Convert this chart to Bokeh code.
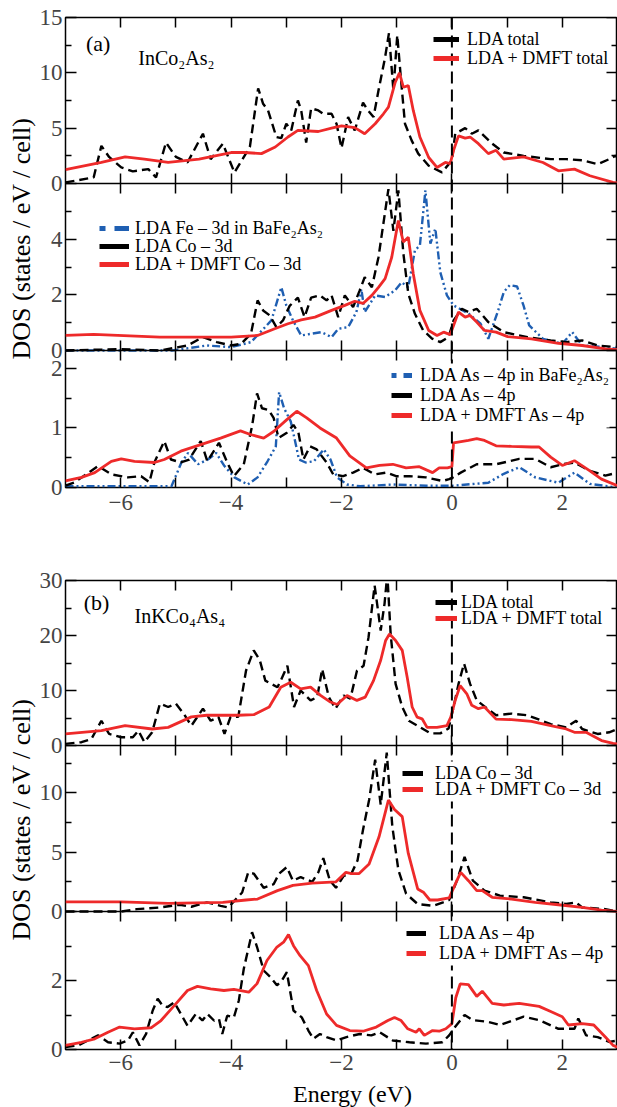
import math
from bokeh.plotting import figure
from bokeh.models import (Range1d, LinearAxis, FixedTicker, Span, Legend, LegendItem, Label,
                          BoxAnnotation)
from bokeh.layouts import column, row
from bokeh.embed import file_html
from bokeh.resources import INLINE

# ---------------- data (energy in eV, DOS in states/eV/cell) ----------------
a1_lda_total = [(-7.0,0.1),(-6.49,0.55),(-6.35,3.4),(-6.21,2.4),(-5.99,1.45),(-5.78,1.1),(-5.50,1.3),(-5.36,0.55),(-5.18,3.7),(-5.00,2.4),(-4.79,1.9),(-4.51,4.5),(-4.37,2.2),(-4.15,3.6),(-3.94,1.0),(-3.66,3.3),(-3.51,8.6),(-3.42,7.2),(-3.33,6.6),(-3.18,4.2),(-3.09,4.1),(-3.0,5.4),(-2.91,4.8),(-2.79,7.5),(-2.73,6.6),(-2.64,3.7),(-2.55,6.8),(-2.42,6.6),(-2.33,6.3),(-2.18,6.3),(-2.09,5.4),(-2.0,3.2),(-1.88,6.0),(-1.76,4.8),(-1.61,7.3),(-1.52,6.6),(-1.42,6.0),(-1.33,8.4),(-1.21,11.4),(-1.14,13.6),(-1.06,8.4),(-0.99,13.4),(-0.91,8.7),(-0.85,5.4),(-0.73,3.9),(-0.61,2.7),(-0.42,1.6),(-0.18,1.0),(0.0,2.1),(0.06,4.5),(0.24,5.0),(0.36,4.5),(0.48,4.8),(0.73,3.6),(0.94,2.8),(1.30,2.5),(1.79,2.2),(2.07,2.2),(2.36,2.1),(2.64,1.75),(2.85,2.2),(2.96,2.5),(3.0,2.4)]
a1_dmft_total = [(-7.0,1.25),(-6.35,1.9),(-5.92,2.4),(-5.57,2.2),(-5.14,1.9),(-4.58,2.2),(-4.0,2.8),(-3.76,2.8),(-3.45,2.7),(-3.2,3.3),(-2.97,4.2),(-2.79,4.8),(-2.42,4.7),(-2.18,5.0),(-2.0,5.2),(-1.76,5.05),(-1.58,4.5),(-1.39,5.4),(-1.24,6.3),(-1.15,6.9),(-1.03,9.1),(-0.95,10.0),(-0.88,8.7),(-0.79,8.85),(-0.70,6.6),(-0.58,4.2),(-0.42,2.35),(-0.27,1.45),(-0.12,1.9),(-0.03,1.8),(0.03,3.0),(0.12,4.3),(0.24,4.1),(0.33,4.2),(0.48,3.6),(0.66,2.7),(0.80,3.0),(0.94,2.2),(1.30,2.4),(1.65,1.9),(1.93,1.15),(2.22,1.3),(2.50,0.7),(2.92,0.1),(3.0,0.05)]

a2_fe3d_bafe2as2 = [(-7.0,0.0),(-5.07,0.0),(-4.44,0.18),(-4.0,0.12),(-3.64,0.3),(-3.27,1.08),(-3.09,2.27),(-3.0,1.62),(-2.88,1.08),(-2.73,0.54),(-2.55,0.6),(-2.36,0.66),(-2.18,0.48),(-2.06,0.78),(-1.88,0.84),(-1.73,1.38),(-1.64,2.2),(-1.58,1.38),(-1.39,1.98),(-1.21,1.92),(-1.03,2.16),(-0.91,2.45),(-0.79,2.27),(-0.67,3.6),(-0.58,3.77),(-0.48,5.75),(-0.39,3.84),(-0.30,4.38),(-0.21,2.81),(-0.09,1.98),(0.03,1.62),(0.30,1.33),(0.52,0.96),(0.66,0.42),(0.84,1.45),(0.94,2.1),(1.05,2.35),(1.18,2.3),(1.30,1.6),(1.40,0.9),(1.65,0.42),(2.0,0.24),(2.18,0.66),(2.36,0.18),(2.78,0.12),(3.0,0.06)]
a2_lda_co3d = [(-7.0,0.0),(-5.99,0.05),(-5.29,0.0),(-4.79,0.18),(-4.51,0.48),(-4.26,0.3),(-4.0,0.18),(-3.82,0.24),(-3.64,0.6),(-3.52,1.8),(-3.42,1.44),(-3.30,1.26),(-3.18,0.84),(-3.06,1.08),(-2.94,1.6),(-2.79,1.9),(-2.67,1.2),(-2.55,1.9),(-2.39,1.98),(-2.27,1.8),(-2.18,1.98),(-2.06,1.2),(-1.94,1.98),(-1.79,1.56),(-1.67,2.16),(-1.58,2.63),(-1.45,2.27),(-1.33,3.35),(-1.15,5.8),(-1.06,4.3),(-0.97,5.75),(-0.88,3.5),(-0.79,2.04),(-0.67,1.32),(-0.52,0.72),(-0.36,0.43),(-0.21,0.3),(-0.06,0.48),(0.03,1.08),(0.18,1.5),(0.30,1.38),(0.45,1.5),(0.66,1.02),(0.94,0.66),(1.37,0.48),(1.79,0.36),(2.07,0.3),(2.36,0.36),(2.64,0.18),(3.0,0.12)]
a2_dmft_co3d = [(-7.0,0.54),(-6.49,0.58),(-5.29,0.48),(-4.0,0.48),(-3.52,0.54),(-3.21,0.78),(-2.97,0.96),(-2.73,1.1),(-2.48,1.2),(-2.18,1.44),(-1.94,1.62),(-1.76,1.77),(-1.61,1.69),(-1.45,1.98),(-1.33,2.27),(-1.21,2.58),(-1.09,3.35),(-0.97,4.67),(-0.88,3.9),(-0.79,4.07),(-0.70,2.76),(-0.58,1.44),(-0.42,0.72),(-0.27,0.54),(-0.15,0.66),(-0.03,0.57),(0.12,1.38),(0.24,1.2),(0.33,1.26),(0.45,1.02),(0.59,0.72),(0.80,0.66),(1.01,0.5),(1.44,0.42),(1.93,0.26),(2.36,0.18),(2.78,0.06),(3.0,0.03)]

a3_as4p_bafe2as2 = [(-7.0,0.02),(-5.08,0.02),(-4.90,0.42),(-4.78,0.58),(-4.60,0.39),(-4.42,0.47),(-4.27,0.58),(-4.12,0.36),(-3.94,0.17),(-3.70,0.05),(-3.52,0.17),(-3.34,0.44),(-3.19,0.69),(-3.13,1.6),(-3.04,1.33),(-2.92,1.11),(-2.86,0.86),(-2.77,0.47),(-2.65,0.42),(-2.50,0.44),(-2.32,0.64),(-2.20,0.47),(-2.08,0.17),(-1.90,0.05),(-1.66,0.02),(-1.06,0.05),(-0.46,0.03),(0.02,0.03),(0.66,0.08),(0.94,0.23),(1.22,0.34),(1.51,0.17),(1.93,0.08),(2.22,0.25),(2.50,0.06),(3.0,0.0)]
a3_lda_as4p = [(-7.0,0.03),(-6.83,0.09),(-6.41,0.36),(-6.17,0.22),(-5.87,0.17),(-5.63,0.19),(-5.48,0.09),(-5.39,0.42),(-5.21,0.78),(-5.09,0.47),(-4.91,0.42),(-4.76,0.47),(-4.55,0.78),(-4.43,0.44),(-4.22,0.75),(-4.07,0.42),(-3.95,0.19),(-3.77,0.39),(-3.62,1.03),(-3.53,1.58),(-3.44,1.33),(-3.32,1.3),(-3.23,1.17),(-3.14,0.83),(-2.99,0.92),(-2.87,1.05),(-2.78,0.92),(-2.69,0.47),(-2.57,0.69),(-2.45,0.64),(-2.27,0.42),(-2.15,0.22),(-1.97,0.19),(-1.79,0.25),(-1.61,0.33),(-1.40,0.22),(-1.19,0.25),(-1.01,0.19),(-0.77,0.19),(-0.47,0.17),(-0.17,0.11),(-0.05,0.14),(0.02,0.17),(0.16,0.25),(0.45,0.39),(0.80,0.39),(1.22,0.48),(1.51,0.48),(1.79,0.34),(2.0,0.39),(2.22,0.42),(2.50,0.28),(2.78,0.2),(3.0,0.25)]
a3_dmft_as4p = [(-7.0,0.11),(-6.71,0.17),(-6.47,0.25),(-6.17,0.44),(-5.99,0.48),(-5.75,0.44),(-5.39,0.42),(-5.21,0.47),(-4.91,0.61),(-4.55,0.72),(-4.19,0.83),(-3.83,0.95),(-3.65,0.89),(-3.41,0.83),(-3.23,0.94),(-2.99,1.14),(-2.81,1.28),(-2.63,1.17),(-2.39,1.0),(-2.09,0.83),(-1.85,0.53),(-1.55,0.33),(-1.31,0.37),(-1.07,0.39),(-0.83,0.33),(-0.59,0.35),(-0.35,0.25),(-0.23,0.33),(-0.08,0.33),(0.0,0.35),(0.03,0.75),(0.30,0.79),(0.45,0.82),(0.59,0.79),(0.80,0.70),(1.08,0.69),(1.44,0.68),(1.58,0.68),(1.79,0.51),(2.0,0.37),(2.22,0.45),(2.50,0.28),(2.71,0.14),(3.0,0.03)]

b1_lda_total = [(-7.0,0.3),(-6.71,0.6),(-6.53,1.2),(-6.35,4.5),(-6.21,2.1),(-5.99,1.5),(-5.78,1.5),(-5.68,2.7),(-5.57,0.6),(-5.43,2.4),(-5.29,7.6),(-5.14,7.0),(-5.00,7.6),(-4.86,5.8),(-4.72,3.6),(-4.51,6.7),(-4.37,4.5),(-4.23,5.2),(-4.12,2.1),(-4.01,5.2),(-3.87,5.2),(-3.73,13.6),(-3.59,17.3),(-3.48,15.5),(-3.38,11.8),(-3.16,10.6),(-3.10,11.8),(-2.98,14.5),(-2.86,7.0),(-2.74,10.0),(-2.56,8.2),(-2.44,8.8),(-2.35,13.9),(-2.23,8.8),(-2.11,6.7),(-1.96,9.1),(-1.84,8.5),(-1.72,13.6),(-1.60,14.5),(-1.51,19.7),(-1.40,29.1),(-1.29,20.9),(-1.22,25.8),(-1.17,31.2),(-1.11,20.3),(-1.02,11.2),(-0.90,7.0),(-0.78,4.5),(-0.57,3.3),(-0.39,2.2),(-0.21,2.2),(-0.06,3.1),(0.03,7.0),(0.12,11.2),(0.22,14.9),(0.33,11.2),(0.45,8.2),(0.80,5.5),(1.08,5.8),(1.37,5.5),(1.79,3.9),(2.07,3.3),(2.25,4.5),(2.36,3.0),(2.64,2.1),(2.85,2.4),(3.0,3.0)]
b1_dmft_total = [(-7.0,2.1),(-6.35,2.7),(-5.92,3.6),(-5.43,3.0),(-5.14,3.3),(-4.72,5.2),(-4.44,5.5),(-3.87,5.5),(-3.59,5.6),(-3.31,7.0),(-3.10,10.6),(-2.92,11.5),(-2.74,10.3),(-2.56,10.6),(-2.38,9.1),(-2.20,7.9),(-2.08,7.45),(-1.90,9.1),(-1.72,8.2),(-1.57,8.8),(-1.42,11.8),(-1.29,15.5),(-1.20,19.1),(-1.13,20.3),(-1.02,19.1),(-0.90,17.3),(-0.81,12.4),(-0.72,7.0),(-0.63,5.15),(-0.54,4.85),(-0.45,3.3),(-0.27,3.3),(-0.09,3.6),(-0.02,5.15),(0.06,8.2),(0.15,10.9),(0.27,9.4),(0.36,7.3),(0.48,6.7),(0.59,7.0),(0.80,4.8),(1.08,4.7),(1.44,4.4),(1.79,3.6),(2.07,3.0),(2.22,2.4),(2.43,2.4),(2.71,0.9),(2.92,0.4),(3.0,0.3)]

b2_lda_co3d = [(-7.0,0.0),(-5.99,0.0),(-5.71,0.2),(-5.29,0.34),(-4.93,0.57),(-4.72,0.4),(-4.44,0.77),(-4.19,0.48),(-4.05,0.34),(-3.94,0.9),(-3.80,1.6),(-3.69,3.3),(-3.59,3.2),(-3.41,2.0),(-3.23,2.3),(-3.13,3.2),(-2.99,3.75),(-2.88,2.6),(-2.74,2.9),(-2.53,2.5),(-2.42,3.3),(-2.33,4.5),(-2.21,2.6),(-2.10,2.0),(-1.96,3.0),(-1.82,3.2),(-1.71,4.3),(-1.61,6.9),(-1.50,9.4),(-1.39,12.8),(-1.29,9.0),(-1.18,13.4),(-1.08,7.2),(-0.97,3.5),(-0.83,1.5),(-0.62,0.63),(-0.33,0.48),(-0.16,0.77),(-0.05,0.97),(0.09,2.6),(0.23,4.6),(0.38,2.6),(0.59,1.76),(0.87,1.34),(1.30,1.2),(1.79,0.77),(2.07,0.63),(2.25,0.77),(2.36,0.34),(2.78,0.2),(3.0,0.0)]
b2_dmft_co3d = [(-7.0,0.82),(-5.99,0.82),(-5.14,0.68),(-4.15,0.77),(-3.73,0.97),(-3.52,1.05),(-3.16,1.76),(-2.88,2.2),(-2.53,2.4),(-2.10,2.5),(-1.92,3.3),(-1.82,3.2),(-1.68,3.2),(-1.50,4.0),(-1.32,6.3),(-1.15,9.4),(-1.04,8.6),(-0.90,8.0),(-0.79,4.9),(-0.62,1.9),(-0.51,1.6),(-0.40,0.97),(-0.26,0.97),(-0.05,1.14),(0.09,2.6),(0.16,3.3),(0.30,2.6),(0.45,1.76),(0.55,1.76),(0.73,1.2),(1.08,1.05),(1.51,0.77),(1.93,0.57),(2.36,0.34),(2.71,0.11),(3.0,0.0)]

b3_lda_as4p = [(-7.0,0.07),(-6.77,0.12),(-6.41,0.41),(-6.23,0.21),(-6.02,0.17),(-5.87,0.26),(-5.78,0.5),(-5.66,0.12),(-5.54,0.45),(-5.42,1.13),(-5.33,1.47),(-5.24,1.27),(-5.15,1.23),(-5.03,1.37),(-4.91,1.03),(-4.79,0.69),(-4.64,1.03),(-4.52,0.84),(-4.43,1.03),(-4.31,0.84),(-4.22,0.89),(-4.16,0.45),(-4.07,0.98),(-3.95,0.93),(-3.86,1.42),(-3.77,2.34),(-3.62,3.4),(-3.53,2.97),(-3.41,2.29),(-3.29,2.1),(-3.17,1.86),(-3.08,2.0),(-2.99,2.24),(-2.87,1.13),(-2.72,0.93),(-2.60,0.55),(-2.51,0.31),(-2.39,0.45),(-2.27,0.36),(-2.09,0.26),(-1.91,0.36),(-1.67,0.45),(-1.46,0.41),(-1.31,0.5),(-1.07,0.26),(-0.77,0.21),(-0.47,0.17),(-0.17,0.21),(-0.05,0.41),(0.06,0.66),(0.23,1.0),(0.38,0.85),(0.66,0.8),(0.87,0.71),(1.30,0.95),(1.58,0.85),(1.93,0.6),(2.22,0.6),(2.29,0.9),(2.43,0.41),(2.64,0.36),(2.85,0.22),(3.0,0.26)]
b3_dmft_as4p = [(-7.0,0.12),(-6.71,0.21),(-6.47,0.31),(-6.23,0.5),(-6.02,0.65),(-5.75,0.6),(-5.45,0.63),(-5.27,0.84),(-5.03,1.27),(-4.79,1.71),(-4.61,1.83),(-4.37,1.76),(-4.13,1.71),(-3.95,1.74),(-3.68,1.66),(-3.53,1.91),(-3.35,2.58),(-3.17,2.97),(-3.05,3.11),(-2.96,3.33),(-2.87,3.01),(-2.75,2.72),(-2.60,2.43),(-2.45,1.71),(-2.27,1.03),(-2.09,0.7),(-1.85,0.55),(-1.61,0.53),(-1.37,0.65),(-1.16,0.84),(-1.04,0.93),(-0.92,0.84),(-0.80,0.6),(-0.65,0.5),(-0.59,0.6),(-0.50,0.41),(-0.35,0.55),(-0.23,0.53),(-0.11,0.6),(0.0,0.75),(0.07,1.5),(0.15,1.9),(0.30,1.88),(0.45,1.54),(0.55,1.69),(0.73,1.34),(0.94,1.29),(1.22,1.34),(1.58,1.25),(1.79,1.1),(2.0,0.95),(2.11,0.71),(2.36,0.75),(2.57,0.71),(2.78,0.36),(2.92,0.12),(3.0,0.07)]

x_ticks = [-6, -4, -2, 0, 2]
x_minor_ticks = [-5, -3, -1, 1]
x_tick_labels = ["\u22126", "\u22124", "\u22122", "0", "2"]

a_yticks = [[0, 5, 10, 15], [0, 2, 4], [0, 1, 2]]
a_yminor = [[2.5, 7.5, 12.5], [1, 3, 5], [0.5, 1.5]]
a_ymax = [15, 6, 2.3]
b_yticks = [[0, 10, 20, 30], [0, 5, 10], [0, 2]]
b_yminor = [[5, 15, 25], [2.5, 7.5, 12.5], [1, 3]]
b_ymax = [30, 14, 4]

y_title = "DOS (states / eV / cell)"
x_title = "Energy (eV)"

# ---------------- layout / styles ----------------
FONT = "Liberation Serif"
RED = "#ee2a2a"
BLUE = "#1f5fb2"
DASH_LDA = "9 5"
DASH_FE = "8 3 2 3 2 3"
W_LDA = 2.4
W_DMFT = 2.8
W_FE = 2.4
TOTAL_W = 617
STRIP = 36                     # strip that carries the rotated y title
FRAME_LEFT = 27                # inside the group figure
GW = TOTAL_W - STRIP
FRAME_LEFT_WIN = STRIP + FRAME_LEFT
FRAME_RIGHT_WIN = TOTAL_W


def e_at(xwin):
    return -7 + (xwin - FRAME_LEFT_WIN) * 10.0 / (FRAME_RIGHT_WIN - FRAME_LEFT_WIN)


def unzip(series):
    return [e for e, _ in series], [v for _, v in series]


def tick_style(ax, tin, tout, mtin, mtout):
    ax.axis_line_color = None
    ax.major_tick_in = tin
    ax.major_tick_out = tout
    ax.minor_tick_in = mtin
    ax.minor_tick_out = mtout
    ax.major_tick_line_color = "black"
    ax.minor_tick_line_color = "black"
    ax.major_tick_line_width = 1.5
    ax.minor_tick_line_width = 1.5


def no_labels(ax):
    ax.major_label_text_font_size = "0px"
    ax.major_label_standoff = 0


def make_group(fig_top, top_border, band_heights, ymax, yticks, yminor, names, bottom_border, xstandoff):
    Hf = sum(band_heights)
    frame_top = fig_top + top_border
    frame_bottom = frame_top + Hf
    p = figure(width=GW, height=top_border + Hf + bottom_border,
               x_range=Range1d(-7, 3), y_range=Range1d(frame_bottom, frame_top),
               output_backend="svg", toolbar_location=None,
               x_axis_location=None, y_axis_location=None,
               min_border_left=FRAME_LEFT, min_border_right=0,
               min_border_top=top_border, min_border_bottom=bottom_border)
    p.grid.visible = False
    p.outline_line_color = "black"
    p.outline_line_width = 1.5
    p.background_fill_color = "white"
    p.border_fill_color = "white"

    # one y scale per stacked panel
    ranges = {}
    below = 0
    for i in reversed(range(len(band_heights))):
        ppu = band_heights[i] / ymax[i]
        start = -below / ppu
        ranges[names[i]] = Range1d(start, start + Hf / ppu)
        below += band_heights[i]
    p.extra_y_ranges = ranges

    info = {}
    acc = frame_top
    major, minor, overrides = [], [], {}
    for i, n in enumerate(names):
        acc += band_heights[i]
        ppu = band_heights[i] / ymax[i]
        info[n] = (acc, ppu)
        for v in yticks[i]:
            pos = round(acc - v * ppu, 3)
            major.append(pos)
            overrides[pos] = str(v)
        for v in yminor[i]:
            minor.append(round(acc - v * ppu, 3))

    yt = FixedTicker(ticks=major, minor_ticks=minor)
    ax = LinearAxis(ticker=yt, major_label_overrides=overrides)
    tick_style(ax, 11, 0, 6, 0)
    ax.major_label_text_font = FONT
    ax.major_label_text_font_size = "23px"
    ax.major_label_standoff = 3
    p.add_layout(ax, "left")
    ax = LinearAxis(ticker=yt, fixed_location=3)
    tick_style(ax, 11, 0, 6, 0)
    no_labels(ax)
    p.add_layout(ax, "right")

    xt = FixedTicker(ticks=x_ticks, minor_ticks=x_minor_ticks)
    for n in names[:-1]:
        ax = LinearAxis(ticker=xt, fixed_location=info[n][0])
        tick_style(ax, 10, 10, 10, 10)
        ax.axis_line_color = "black"
        ax.axis_line_width = 1.5
        no_labels(ax)
        p.add_layout(ax, "below")
    ax = LinearAxis(ticker=xt, fixed_location=frame_top)
    tick_style(ax, 10, 0, 10, 0)
    no_labels(ax)
    p.add_layout(ax, "above")
    ax = LinearAxis(ticker=xt, major_label_overrides={t: s for t, s in zip(x_ticks, x_tick_labels)})
    tick_style(ax, 10, 0, 10, 0)
    ax.major_label_text_font = FONT
    ax.major_label_text_font_size = "23px"
    ax.major_label_standoff = xstandoff
    p.add_layout(ax, "below")

    p.add_layout(Span(location=0, dimension="height", line_color="black",
                      line_width=2, line_dash="12 6"))
    geom = dict(fig_top=fig_top, height=top_border + Hf + bottom_border,
                top_border=top_border, bottom_border=bottom_border,
                frame_top=frame_top, frame_bottom=frame_bottom)
    return p, info, geom


def curve(p, series, band, color, dash, width):
    x, y = unzip(series)
    p.line(x, y, y_range_name=band, line_color=color, line_width=width, line_dash=dash)


def legend(p, entries, frame_bottom, glyph_x, first_row, pitch, glyph_w, standoff, blank_right=None):
    H = 24
    if blank_right is not None:   # white patch behind the legend text (hides the E = 0 line there)
        p.add_layout(BoxAnnotation(left=e_at(glyph_x - 2), right=e_at(blank_right),
                                   top=first_row - 12, bottom=first_row + (len(entries) - 1) * pitch + 12,
                                   fill_color="white", fill_alpha=1.0, line_color=None))
    for k, (label, color, dash) in enumerate(entries):
        row_y = first_row + k * pitch
        r = p.line(x=[math.nan], y=[math.nan], line_color=color, line_width=5, line_dash=dash)
        loc = (int(round(glyph_x - FRAME_LEFT_WIN)), int(round(frame_bottom - (row_y + H / 2))))
        lg = Legend(items=[LegendItem(label=label, renderers=[r])], location=loc,
                    padding=0, margin=0, spacing=0,
                    glyph_width=glyph_w, glyph_height=H, label_height=H, label_standoff=standoff,
                    label_text_font=FONT, label_text_font_size="18px", label_text_color="black",
                    border_line_color=None, background_fill_alpha=0.0)
        p.add_layout(lg, "center")


def note(p, x, y, s, size):
    p.add_layout(Label(x=x, y=y, text=s, text_font=FONT, text_font_size=size,
                       text_color="black", text_baseline="middle", text_align="left"))


def y_title_strip(g, center_y_win):
    # same vertical borders as the group figure beside it, y scale in window pixels
    f = figure(width=STRIP, height=g["height"], x_range=Range1d(0, STRIP),
               y_range=Range1d(g["frame_bottom"], g["frame_top"]),
               output_backend="svg", toolbar_location=None,
               x_axis_location=None, y_axis_location=None,
               min_border_left=0, min_border_right=0,
               min_border_top=g["top_border"], min_border_bottom=g["bottom_border"])
    f.grid.visible = False
    f.outline_line_color = None
    f.border_fill_color = "white"
    f.background_fill_color = "white"
    f.add_layout(Label(x=21, y=center_y_win, text=y_title, text_font=FONT, text_font_size="26px",
                       text_color="black", text_align="center", text_baseline="middle",
                       angle=math.pi / 2))
    return f


def x_title_strip(height, cx, cy_from_top):
    f = figure(width=TOTAL_W, height=height, x_range=Range1d(0, TOTAL_W), y_range=Range1d(0, height),
               output_backend="svg", toolbar_location=None,
               x_axis_location=None, y_axis_location=None, min_border=0)
    f.grid.visible = False
    f.outline_line_color = None
    f.border_fill_color = "white"
    f.background_fill_color = "white"
    f.add_layout(Label(x=cx, y=height - cy_from_top, text=x_title, text_font=FONT,
                       text_font_size="24px", text_color="black",
                       text_align="center", text_baseline="middle"))
    return f


# ---------------- group (a): InCo2As2 ----------------
A_TOP, A_H = 0, 565
pa, ia, ga = make_group(A_TOP, 17, [166, 167, 137], a_ymax, a_yticks, a_yminor,
                        ["a1", "a2", "a3"], A_H - 17 - 470, 7)
fba = ga["frame_bottom"]
curve(pa, a1_lda_total, "a1", "black", DASH_LDA, W_LDA)
curve(pa, a1_dmft_total, "a1", RED, "solid", W_DMFT)
curve(pa, a2_fe3d_bafe2as2, "a2", BLUE, DASH_FE, W_FE)
curve(pa, a2_lda_co3d, "a2", "black", DASH_LDA, W_LDA)
curve(pa, a2_dmft_co3d, "a2", RED, "solid", W_DMFT)
curve(pa, a3_as4p_bafe2as2, "a3", BLUE, DASH_FE, W_FE)
curve(pa, a3_lda_as4p, "a3", "black", DASH_LDA, W_LDA)
curve(pa, a3_dmft_as4p, "a3", RED, "solid", W_DMFT)

legend(pa, [("LDA total", "black", "solid"), ("LDA + DMFT total", RED, "solid")],
       fba, 431, 39, 19, 26, 8)
legend(pa, [("LDA Fe \u2013 3d in BaFe\u2082As\u2082", BLUE, "6 9 15"),
            ("LDA Co \u2013 3d", "black", "solid"),
            ("LDA + DMFT Co \u2013 3d", RED, "solid")],
       fba, 97, 228, 18, 30, 6, blank_right=328)
legend(pa, [("LDA As \u2013 4p in BaFe\u2082As\u2082", BLUE, "5 7 9"),
            ("LDA As \u2013 4p", "black", "solid"),
            ("LDA + DMFT As \u2013 4p", RED, "solid")],
       fba, 389, 375, 20, 21, 8, blank_right=609)
note(pa, -6.63, 43, "(a)", "22px")
note(pa, -5.68, 57, "InCo\u2082As\u2082", "20px")

# ---------------- group (b): InKCo4As4 ----------------
B_TOP, B_H = 565, 515
pb, ib, gb = make_group(B_TOP, 15, [165, 166, 138], b_ymax, b_yticks, b_yminor,
                        ["b1", "b2", "b3"], B_H - 15 - 469, 5)
fbb = gb["frame_bottom"]
curve(pb, b1_lda_total, "b1", "black", DASH_LDA, W_LDA)
curve(pb, b1_dmft_total, "b1", RED, "solid", W_DMFT)
curve(pb, b2_lda_co3d, "b2", "black", DASH_LDA, W_LDA)
curve(pb, b2_dmft_co3d, "b2", RED, "solid", W_DMFT)
curve(pb, b3_lda_as4p, "b3", "black", DASH_LDA, W_LDA)
curve(pb, b3_dmft_as4p, "b3", RED, "solid", W_DMFT)

legend(pb, [("LDA total", "black", "solid"), ("LDA + DMFT total", RED, "solid")],
       fbb, 433, 602, 16, 22, 4)
legend(pb, [("LDA Co \u2013 3d", "black", "solid"), ("LDA + DMFT Co \u2013 3d", RED, "solid")],
       fbb, 400, 773, 16, 21, 12, blank_right=612)
legend(pb, [("LDA As \u2013 4p", "black", "solid"), ("LDA + DMFT As \u2013 4p", RED, "solid")],
       fbb, 404, 933, 20, 20, 13, blank_right=610)
note(pb, -6.67, 602, "(b)", "22px")
note(pb, -5.75, 615, "InKCo\u2084As\u2084", "20px")

# ---------------- titles ----------------
sa = y_title_strip(ga, 238)
sb = y_title_strip(gb, 819)
E_TOP = B_TOP + B_H
E_H = 1107 - E_TOP
se = x_title_strip(E_H, 352, 1093 - E_TOP)

layout = column(row(sa, pa, spacing=0), row(sb, pb, spacing=0), se, spacing=0)
open("out.html", "w").write(file_html(layout, INLINE))
